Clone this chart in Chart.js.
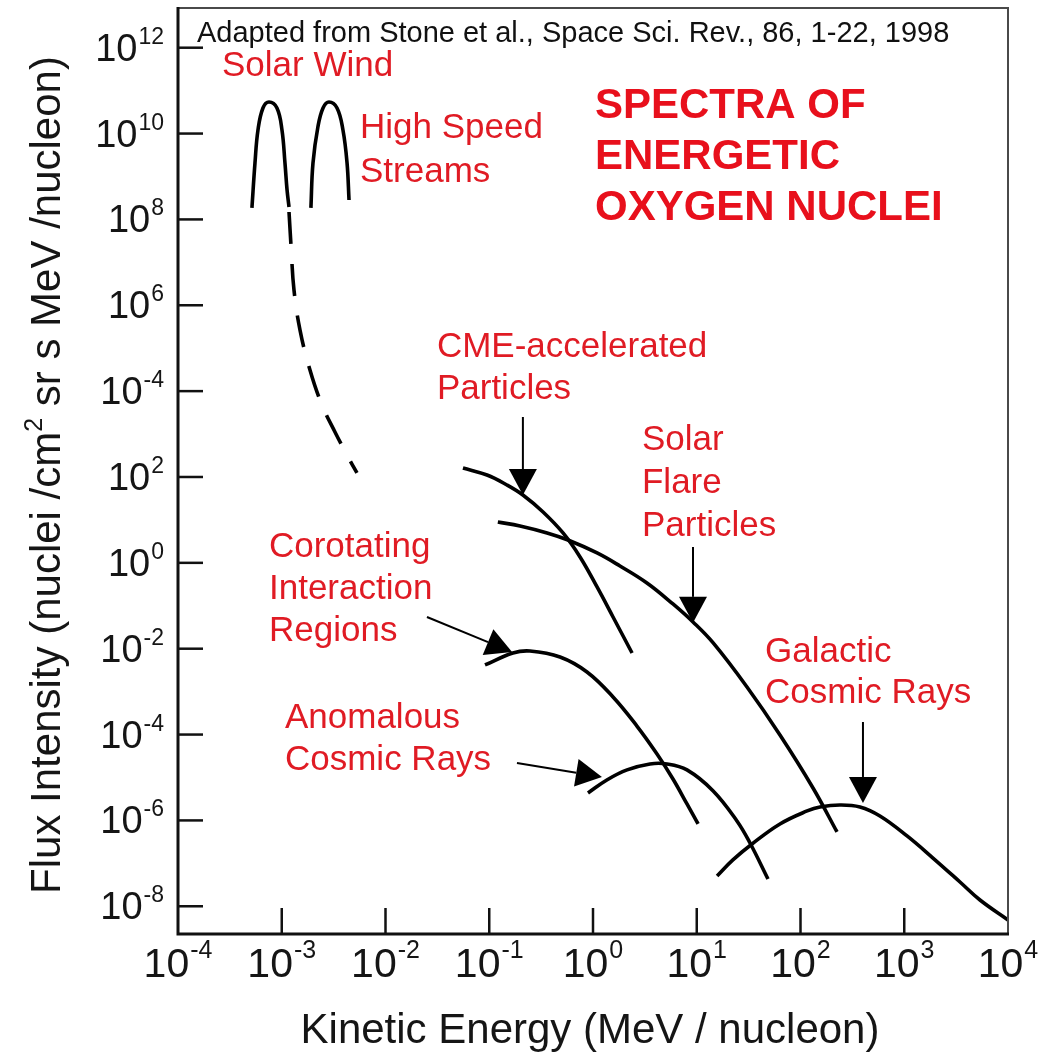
<!DOCTYPE html>
<html>
<head>
<meta charset="utf-8">
<title>Spectra of Energetic Oxygen Nuclei</title>
<script src="https://cdn.jsdelivr.net/npm/chart.js@4.4.1/dist/chart.umd.min.js"></script>
<style>
  html, body { margin: 0; padding: 0; background: #ffffff; }
  #wrap { width: 1041px; height: 1052px; }
</style>
</head>
<body>
<div id="wrap"><canvas id="chart" width="1041" height="1052"></canvas></div>
<script>
// ---- Spectra: kinetic energy (MeV/nucleon) vs flux ----
const solarWindEnergy = [5.16e-4, 5.52e-4, 5.90e-4, 6.59e-4, 7.53e-4, 8.99e-4, 1.005e-3, 1.074e-3, 1.125e-3, 1.175e-3];
const solarWindFlux   = [1.85e8, 2.06e9, 1.21e10, 3.94e10, 5.43e10, 3.94e10, 1.21e10, 2.06e9, 4.84e8, 1.95e8];

const highSpeedEnergy = [1.91e-3, 2.00e-3, 2.23e-3, 2.50e-3, 2.85e-3, 3.41e-3, 3.89e-3, 4.26e-3, 4.45e-3];
const highSpeedFlux   = [1.85e8, 2.06e9, 1.42e10, 3.94e10, 5.43e10, 3.94e10, 1.21e10, 2.06e9, 2.83e8];

const tailEnergy = [1.175e-3, 1.227e-3, 1.312e-3, 1.500e-3, 1.871e-3, 2.443e-3, 3.258e-3, 4.256e-3, 5.31e-3];
const tailFlux   = [1.49e8, 2.54e7, 2.27e6, 2.65e5, 3.10e4, 4.75e3, 1.12e3, 325, 124];

const cmeEnergy = [0.0558, 0.0951, 0.148, 0.211, 0.330, 0.514, 0.750, 1.094, 1.56, 2.38];
const cmeFlux   = [162, 111, 65.2, 38.1, 15.3, 4.97, 1.37, 0.274, 0.0548, 0.00794];

const flareEnergy = [0.121, 0.198, 0.361, 0.574, 1.094, 1.82, 3.31, 5.90, 9.20, 14.4, 30.5, 63.4, 132, 225];
const flareFlux   = [8.95, 7.23, 4.97, 3.40, 1.70, 0.845, 0.340, 0.110, 0.0419, 0.0136, 1.28e-3, 9.77e-5, 5.70e-6, 5.38e-7];

const cirEnergy = [0.0910, 0.169, 0.247, 0.481, 0.875, 1.56, 2.65, 4.14, 5.90, 8.05, 10.3];
const cirFlux   = [4.18e-3, 7.94e-3, 8.85e-3, 6.41e-3, 2.87e-3, 7.50e-4, 1.58e-4, 3.53e-5, 9.23e-6, 2.42e-6, 8.26e-7];

const acrEnergy = [0.895, 1.36, 2.13, 3.54, 5.16, 8.05, 14.4, 24.4, 32.6, 48.6];
const acrFlux   = [4.36e-6, 8.75e-6, 1.50e-5, 2.07e-5, 2.07e-5, 1.50e-5, 4.85e-6, 9.70e-7, 2.98e-7, 4.33e-8];

const gcrEnergy = [15.7, 22.3, 34.1, 63.4, 116, 154, 240, 374, 583, 1064, 1892, 3444, 5370, 10000];
const gcrFlux   = [5.08e-8, 1.20e-7, 2.82e-7, 8.26e-7, 1.66e-6, 2.06e-6, 2.29e-6, 2.06e-6, 1.27e-6, 4.35e-7, 1.33e-7, 3.68e-8, 1.40e-8, 4.80e-9];

// ---- Axes ----
const energyRange = [1e-4, 1e4];
const fluxRange   = [2.26e-9, 8.41e12];
const xTickExponents = [-4, -3, -2, -1, 0, 1, 2, 3, 4];
const xTickLabels    = ['-4', '-3', '-2', '-1', '0', '1', '2', '3', '4'];
const yTickExponents = [12, 10, 8, 6, 4, 2, 0, -2, -4, -6, -8];
const yTickLabels    = ['12', '10', '8', '6', '-4', '2', '0', '-2', '-4', '-6', '-8'];

// ---- Annotation text, anchored at (energy, flux) of the first line's left baseline ----
const labelBlocks = [
  { lines: ['Adapted from Stone et al., Space Sci. Rev., 86, 1-22, 1998'], at: [1.524e-4, 1.36e12], color: '#111111', font: '29px', step: 0 },
  { lines: ['Solar Wind'], at: [2.655e-4, 2.19e11], color: '#e01b24', font: '35px', step: 0 },
  { lines: ['High Speed', 'Streams'], at: [5.68e-3, 7.89e9], color: '#e01b24', font: '35px', step: 44 },
  { lines: ['SPECTRA OF', 'ENERGETIC', 'OXYGEN NUCLEI'], at: [1.045, 2.30e10], color: '#e8101c', font: 'bold 42px', step: 51 },
  { lines: ['CME-accelerated', 'Particles'], at: [0.0313, 6.24e4], color: '#e01b24', font: '35px', step: 42 },
  { lines: ['Solar', 'Flare', 'Particles'], at: [2.965, 426], color: '#e01b24', font: '35px', step: 43 },
  { lines: ['Corotating', 'Interaction', 'Regions'], at: [7.53e-4, 1.37], color: '#e01b24', font: '35px', step: 42 },
  { lines: ['Anomalous', 'Cosmic Rays'], at: [1.074e-3, 1.42e-4], color: '#e01b24', font: '35px', step: 42 },
  { lines: ['Galactic', 'Cosmic Rays'], at: [45.5, 4.91e-3], color: '#e01b24', font: '35px', step: 41 }
];

// Pointer arrows: tail -> head, in (energy, flux)
const pointerArrows = [
  { from: [0.211, 2500],     to: [0.211, 38.1] },
  { from: [9.20, 2.34],      to: [9.20, 0.0400] },
  { from: [400, 1.96e-4],    to: [400, 2.55e-6] },
  { from: [0.0251, 0.0548],  to: [0.166, 8.39e-3] },
  { from: [0.185, 2.18e-5],  to: [1.22, 1.03e-5] }
];

const FONT = '"Liberation Sans", Arial, Helvetica, sans-serif';

function curve(energy, flux, extra) {
  return Object.assign({
    data: energy.map((e, i) => ({ x: e, y: flux[i] })),
    borderColor: '#000000',
    borderWidth: 3.6,
    pointRadius: 0,
    showLine: true,
    fill: false,
    tension: 0.4,
    borderCapStyle: 'butt',
    borderJoinStyle: 'round'
  }, extra || {});
}

function powerText(ctx, x, y, exp, baseSize, expSize, rise, align) {
  ctx.font = baseSize + 'px ' + FONT;
  const wb = ctx.measureText('10').width;
  ctx.font = expSize + 'px ' + FONT;
  const we = ctx.measureText(exp).width;
  const gap = 1;
  const total = wb + gap + we;
  const x0 = align === 'right' ? x - total : (align === 'center' ? x - total / 2 : x);
  ctx.textAlign = 'left';
  ctx.textBaseline = 'alphabetic';
  ctx.font = baseSize + 'px ' + FONT;
  ctx.fillText('10', x0, y);
  ctx.font = expSize + 'px ' + FONT;
  ctx.fillText(exp, x0 + wb + gap, y - rise);
}

function drawArrow(ctx, x1, y1, x2, y2) {
  const ang = Math.atan2(y2 - y1, x2 - x1);
  const len = 26, half = 14;
  const bx = x2 - len * Math.cos(ang), by = y2 - len * Math.sin(ang);
  ctx.beginPath();
  ctx.moveTo(x1, y1);
  ctx.lineTo(bx, by);
  ctx.stroke();
  ctx.beginPath();
  ctx.moveTo(x2, y2);
  ctx.lineTo(bx + half * Math.sin(ang), by - half * Math.cos(ang));
  ctx.lineTo(bx - half * Math.sin(ang), by + half * Math.cos(ang));
  ctx.closePath();
  ctx.fill();
}

const framePlugin = {
  id: 'frameAndText',
  afterDraw(chart) {
    const { ctx, chartArea: a } = chart;
    const xs = chart.scales.x, ys = chart.scales.y;
    ctx.save();

    // Plot frame: thin top/right border, heavier left/bottom axes
    ctx.lineCap = 'butt';
    ctx.strokeStyle = '#4a4a4a';
    ctx.lineWidth = 2;
    ctx.beginPath();
    ctx.moveTo(a.left, a.top);
    ctx.lineTo(a.right, a.top);
    ctx.lineTo(a.right, a.bottom);
    ctx.stroke();
    ctx.strokeStyle = '#111111';
    ctx.lineWidth = 3;
    ctx.beginPath();
    ctx.moveTo(a.left, a.top - 1);
    ctx.lineTo(a.left, a.bottom);
    ctx.lineTo(a.right + 1, a.bottom);
    ctx.stroke();

    // Inward tick marks
    ctx.lineWidth = 2.5;
    yTickExponents.forEach(p => {
      const py = ys.getPixelForValue(Math.pow(10, p));
      ctx.beginPath(); ctx.moveTo(a.left, py); ctx.lineTo(a.left + 25, py); ctx.stroke();
    });
    xTickExponents.forEach(p => {
      const px = xs.getPixelForValue(Math.pow(10, p));
      if (px <= a.left + 1 || px >= a.right - 1) return;
      ctx.beginPath(); ctx.moveTo(px, a.bottom); ctx.lineTo(px, a.bottom - 26); ctx.stroke();
    });

    // Tick labels as powers of ten
    ctx.fillStyle = '#151515';
    yTickExponents.forEach((p, i) => {
      const py = ys.getPixelForValue(Math.pow(10, p));
      powerText(ctx, a.left - 14, py + 13, yTickLabels[i], 38, 23, 17, 'right');
    });
    xTickExponents.forEach((p, i) => {
      const px = xs.getPixelForValue(Math.pow(10, p));
      powerText(ctx, px, a.bottom + 43, xTickLabels[i], 41, 25, 19, 'center');
    });

    // Axis titles
    ctx.font = '42px ' + FONT;
    ctx.textAlign = 'center';
    ctx.textBaseline = 'alphabetic';
    ctx.fillText('Kinetic Energy (MeV / nucleon)', (a.left + a.right) / 2 - 3, a.bottom + 109);

    ctx.save();
    ctx.translate(a.left - 118, (a.top + a.bottom) / 2 + 4);
    ctx.rotate(-Math.PI / 2);
    const parts = [
      { t: 'Flux Intensity (nuclei /cm', size: 42, rise: 0 },
      { t: '2', size: 25, rise: 18 },
      { t: ' sr s MeV /nucleon)', size: 42, rise: 0 }
    ];
    let total = 0;
    parts.forEach(pt => { ctx.font = pt.size + 'px ' + FONT; pt.w = ctx.measureText(pt.t).width; total += pt.w; });
    let cx = -total / 2;
    ctx.textAlign = 'left';
    parts.forEach(pt => { ctx.font = pt.size + 'px ' + FONT; ctx.fillText(pt.t, cx, -pt.rise); cx += pt.w; });
    ctx.restore();

    // Pointer arrows
    ctx.strokeStyle = '#000000';
    ctx.fillStyle = '#000000';
    ctx.lineWidth = 2;
    pointerArrows.forEach(ar => {
      drawArrow(ctx,
        xs.getPixelForValue(ar.from[0]), ys.getPixelForValue(ar.from[1]),
        xs.getPixelForValue(ar.to[0]), ys.getPixelForValue(ar.to[1]));
    });

    // Text annotations
    ctx.textAlign = 'left';
    ctx.textBaseline = 'alphabetic';
    labelBlocks.forEach(b => {
      const lx = xs.getPixelForValue(b.at[0]);
      const ly = ys.getPixelForValue(b.at[1]);
      ctx.fillStyle = b.color;
      ctx.font = b.font + ' ' + FONT;
      b.lines.forEach((ln, i) => ctx.fillText(ln, lx, ly + i * b.step));
    });

    ctx.restore();
  }
};

new Chart(document.getElementById('chart'), {
  type: 'scatter',
  data: {
    datasets: [
      curve(solarWindEnergy, solarWindFlux),
      curve(highSpeedEnergy, highSpeedFlux),
      curve(tailEnergy, tailFlux, { borderDash: [32, 20] }),
      curve(cmeEnergy, cmeFlux),
      curve(flareEnergy, flareFlux),
      curve(cirEnergy, cirFlux),
      curve(acrEnergy, acrFlux),
      curve(gcrEnergy, gcrFlux)
    ]
  },
  options: {
    responsive: false,
    animation: false,
    devicePixelRatio: 1,
    layout: { padding: { left: 178, top: 8, right: 33, bottom: 118 } },
    plugins: { legend: { display: false }, tooltip: { enabled: false } },
    scales: {
      x: { type: 'logarithmic', min: energyRange[0], max: energyRange[1], display: false },
      y: { type: 'logarithmic', min: fluxRange[0], max: fluxRange[1], display: false }
    }
  },
  plugins: [framePlugin]
});
</script>
</body>
</html>
